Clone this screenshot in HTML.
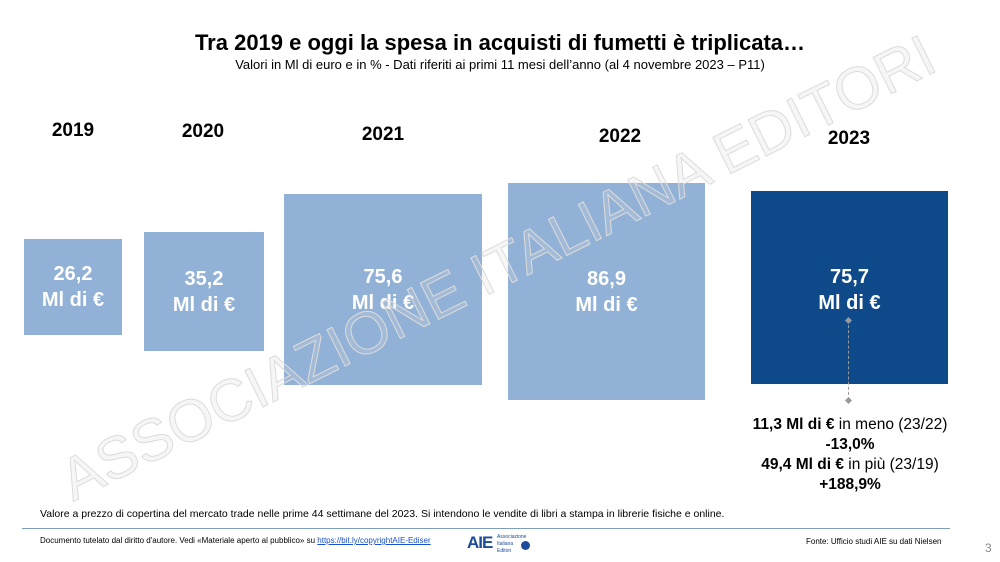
<!DOCTYPE html>
<html><head><meta charset="utf-8"><style>
body{margin:0;width:1000px;height:562px;background:#fff;position:relative;overflow:hidden;font-family:"Liberation Sans",Arial,sans-serif}
.a{position:absolute}
.sq{position:absolute;background:#92b1d6;color:#fff;font-weight:bold;font-size:20px;text-align:center;display:flex;align-items:center;justify-content:center;line-height:26px}
.yr{position:absolute;font-weight:bold;font-size:19px;color:#000;transform:translateX(-50%)}
.wm{position:absolute;left:80px;top:445px;height:70px;line-height:70px;font-size:59px;color:rgba(220,220,220,0.25);-webkit-text-stroke:1px #dcdcdc;transform:rotate(-26.5deg);transform-origin:left bottom;white-space:nowrap}
</style></head><body>
<div class="a" style="left:0;top:30px;width:1000px;text-align:center;font-weight:bold;font-size:22px">Tra 2019 e oggi la spesa in acquisti di fumetti è triplicata…</div>
<div class="a" style="left:0;top:57px;width:1000px;text-align:center;font-size:13px">Valori in Ml di euro e in % - Dati riferiti ai primi 11 mesi dell’anno (al 4 novembre 2023 – P11)</div>
<div class="yr" style="left:73px;top:120px">2019</div>
<div class="yr" style="left:203px;top:121px">2020</div>
<div class="yr" style="left:383px;top:124px">2021</div>
<div class="yr" style="left:620px;top:126px">2022</div>
<div class="yr" style="left:849px;top:128px">2023</div>
<div class="sq" style="left:24px;top:239px;width:98px;height:96px">26,2<br>Ml di €</div>
<div class="sq" style="left:144px;top:232px;width:120px;height:119px">35,2<br>Ml di €</div>
<div class="sq" style="left:284px;top:194px;width:198px;height:191px">75,6<br>Ml di €</div>
<div class="sq" style="left:508px;top:183px;width:197px;height:217px">86,9<br>Ml di €</div>
<div class="sq" style="left:751px;top:191px;width:197px;height:193px;background:#0e4a8a;align-items:flex-start;padding-top:0"><div style="margin-top:73px">75,7<br>Ml di €</div></div>
<div class="a" style="left:848px;top:320px;height:80px;border-left:1.5px dashed #999"></div>
<div class="a" style="left:846px;top:318px;width:5px;height:5px;background:#999;transform:rotate(45deg)"></div>
<div class="a" style="left:846px;top:398px;width:5px;height:5px;background:#999;transform:rotate(45deg)"></div>
<div class="a" style="left:700px;top:415px;width:300px;text-align:center;font-size:15.5px;line-height:20px"><b>11,3 Ml di €</b> in meno (23/22)<br><b>-13,0%</b><br><b>49,4 Ml di €</b> in più (23/19)<br><b>+188,9%</b></div>
<div class="wm">ASSOCIAZIONE ITALIANA EDITORI</div>
<div class="a" style="left:40px;top:508px;font-size:10.5px">Valore a prezzo di copertina del mercato trade nelle prime 44 settimane del 2023. Si intendono le vendite di libri a stampa in librerie fisiche e online.</div>
<div class="a" style="left:22px;top:528px;width:928px;border-top:1px solid #7f9fbf"></div>
<div class="a" style="left:40px;top:536px;font-size:8px">Documento tutelato dal diritto d'autore. Vedi «Materiale aperto al pubblico» su <span style="color:#1a4fd0;text-decoration:underline">https://bit.ly/copyrightAIE-Ediser</span></div>
<div class="a" style="left:467px;top:533px;font-size:17px;font-weight:bold;color:#1b4b9a;letter-spacing:-1px">AIE</div>
<div class="a" style="left:497px;top:534px;font-size:5px;color:#1b4b9a;line-height:7px">Associazione<br>Italiana<br>Editori</div>
<div class="a" style="left:521px;top:541px;width:9px;height:9px;border-radius:50%;background:#1b4b9a"></div>
<div class="a" style="left:806px;top:537px;font-size:8px">Fonte: Ufficio studi AIE su dati Nielsen</div>
<div class="a" style="left:985px;top:541px;font-size:12px;color:#888">3</div>
</body></html>
